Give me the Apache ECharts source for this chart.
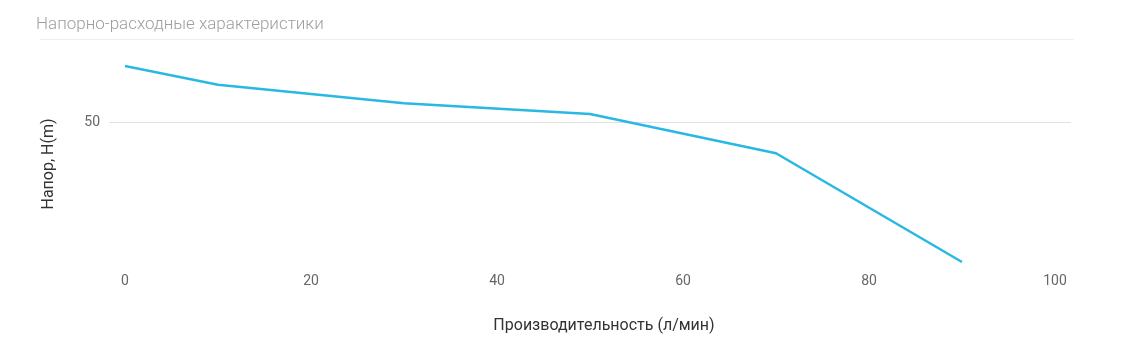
<!DOCTYPE html>
<html><head><meta charset="utf-8">
<script src="https://cdn.jsdelivr.net/npm/echarts@6/dist/echarts.min.js"></script>
<style>html,body{margin:0;padding:0;background:#fff}#c{width:1145px;height:358px}</style>
</head><body><div id="c"></div>
<script>
const flow = [0, 10, 30, 50, 70, 90];
const head = [62, 58, 54, 51.7, 43.3, 20];
const xTicks = [0, 20, 40, 60, 80, 100];
const yTicks = [50];

const chart = echarts.init(document.getElementById('c'));
chart.setOption({
  animation: false,
  title: {
    text: 'Напорно-расходные характеристики',
    left: 31, top: 11,
    textStyle: {fontFamily: 'Roboto', fontWeight: 300, fontSize: 17, color: '#9e9e9e'}
  },
  graphic: [{
    type: 'line', left: 38, top: 37,
    shape: {x1: 0, y1: 0, x2: 1033, y2: 0},
    style: {stroke: '#eeeeee', lineWidth: 1}
  }],
  grid: {left: 109, right: 74, top: 66, bottom: 96},
  xAxis: {
    type: 'value', min: -1.72, max: 101.72,
    name: 'Производительность (л/мин)', nameLocation: 'middle', nameGap: 56,
    nameTextStyle: {fontFamily: 'Roboto', fontSize: 16, color: '#333', padding: [0, 0, 0, 28]},
    axisLine: {show: false}, axisTick: {show: false}, splitLine: {show: false},
    axisLabel: {customValues: xTicks, fontFamily: 'Roboto', fontSize: 14, color: '#666', margin: 12}
  },
  yAxis: {
    type: 'value', min: 'dataMin', max: 'dataMax',
    name: 'Напор, H(m)', nameLocation: 'middle', nameGap: 52,
    nameTextStyle: {fontFamily: 'Roboto', fontSize: 16, color: '#333'},
    axisLine: {show: false}, axisTick: {show: false},
    axisLabel: {customValues: yTicks, fontFamily: 'Roboto', fontSize: 14, color: '#666', margin: 9},
    splitLine: {show: false}
  },
  series: [{
    type: 'line', showSymbol: false, z: 5,
    data: flow.map((f, i) => [f, head[i]]),
    lineStyle: {color: '#29b8e3', width: 2.5},
    itemStyle: {color: '#29b8e3'},
    markLine: {
      silent: true, symbol: 'none', label: {show: false}, z: 1,
      lineStyle: {color: '#e0e0e0', type: 'solid', width: 1},
      data: yTicks.map(v => ({yAxis: v}))
    }
  }]
});
</script></body></html>
